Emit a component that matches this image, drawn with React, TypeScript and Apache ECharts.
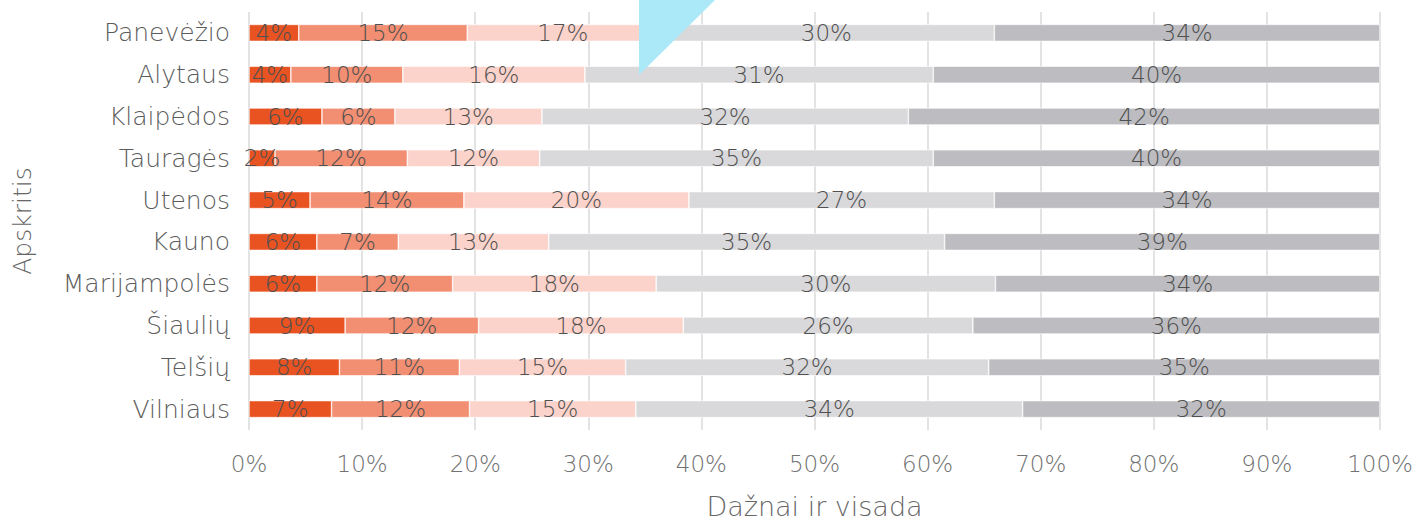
import React, { useEffect, useRef } from "react";
import * as echarts from "echarts";

const categories = [
  "Panevėžio",
  "Alytaus",
  "Klaipėdos",
  "Tauragės",
  "Utenos",
  "Kauno",
  "Marijampolės",
  "Šiaulių",
  "Telšių",
  "Vilniaus",
];

const seriesNames = ["Niekada", "Retai", "Kartais", "Dažnai", "Visada"];

const s1 = [4.4, 3.7, 6.45, 2.3, 5.4, 6.0, 6.0, 8.5, 8.0, 7.3];
const s2 = [14.9, 9.9, 6.45, 11.7, 13.6, 7.2, 12.0, 11.8, 10.6, 12.2];
const s3 = [16.9, 16.1, 13.0, 11.7, 19.9, 13.3, 18.0, 18.1, 14.7, 14.7];
const s4 = [29.7, 30.8, 32.4, 34.8, 27.0, 35.0, 30.0, 25.6, 32.1, 34.2];
const s5 = [34.1, 39.5, 41.7, 39.5, 34.1, 38.5, 34.0, 36.0, 34.6, 31.6];

const colors = ["#E95322", "#F28E72", "#FBD3CB", "#D9D9DB", "#BDBDC1"];

const xTicks = [0, 10, 20, 30, 40, 50, 60, 70, 80, 90, 100];

const FONT = "'DejaVu Sans ExtraLight', 'DejaVu Sans Light', 'DejaVu Sans', sans-serif";

export default function App() {
  const ref = useRef<HTMLDivElement>(null);

  useEffect(() => {
    if (!ref.current) return;
    const chart = echarts.init(ref.current, null, { renderer: "svg" });
    const data = [s1, s2, s3, s4, s5];
    chart.setOption({
      animation: false,
      textStyle: { fontFamily: FONT },
      grid: {
        left: 249,
        right: 45,
        top: 12,
        bottom: 93,
        containLabel: false,
        outerBoundsMode: "none",
      },
      xAxis: {
        type: "value",
        min: xTicks[0],
        max: xTicks[xTicks.length - 1],
        interval: 10,
        name: "Dažnai ir visada",
        nameLocation: "middle",
        nameGap: 63,
        nameTextStyle: { color: "#666666", fontSize: 27, fontFamily: FONT, fontWeight: 200 },
        axisLine: { show: false },
        axisTick: { show: false },
        axisLabel: {
          formatter: (v: number) => `${v}%`,
          color: "#727272",
          fontSize: 23,
          fontWeight: 200,
          fontFamily: FONT,
          margin: 22,
        },
        splitLine: { show: true, lineStyle: { color: "#E3E3E3", width: 2 } },
      },
      yAxis: {
        type: "category",
        data: categories,
        inverse: true,
        name: "Apskritis",
        nameLocation: "middle",
        nameGap: 214,
        nameTextStyle: { color: "#666666", fontSize: 25, fontFamily: FONT, fontWeight: 200 },
        axisLine: { show: false },
        axisTick: { show: false },
        axisLabel: {
          color: "#5C5C5C",
          fontSize: 25,
          fontWeight: 200,
          fontFamily: FONT,
          margin: 19,
        },
      },
      series: data.map((d, i) => ({
        name: seriesNames[i],
        type: "bar",
        stack: "total",
        barWidth: 17,
        data: d,
        itemStyle: { color: colors[i], borderColor: "#FFFFFF", borderWidth: 0.6 },
        label: {
          show: true,
          position: "inside",
          formatter: (p: any) => `${Math.round(p.value)}%`,
          color: "#505050",
          fontSize: 23,
          fontWeight: 200,
          fontFamily: FONT,
        },
      })),
      graphic: [
        {
          type: "polygon",
          z: 100,
          shape: { points: [[639, 0], [715, 0], [639, 75]] },
          style: { fill: "#ABE9F8" },
        },
      ],
    });
    return () => chart.dispose();
  }, []);

  return (
    <div
      ref={ref}
      style={{ position: "fixed", left: 0, top: 0, width: 1425, height: 523, background: "#fff" }}
    />
  );
}
